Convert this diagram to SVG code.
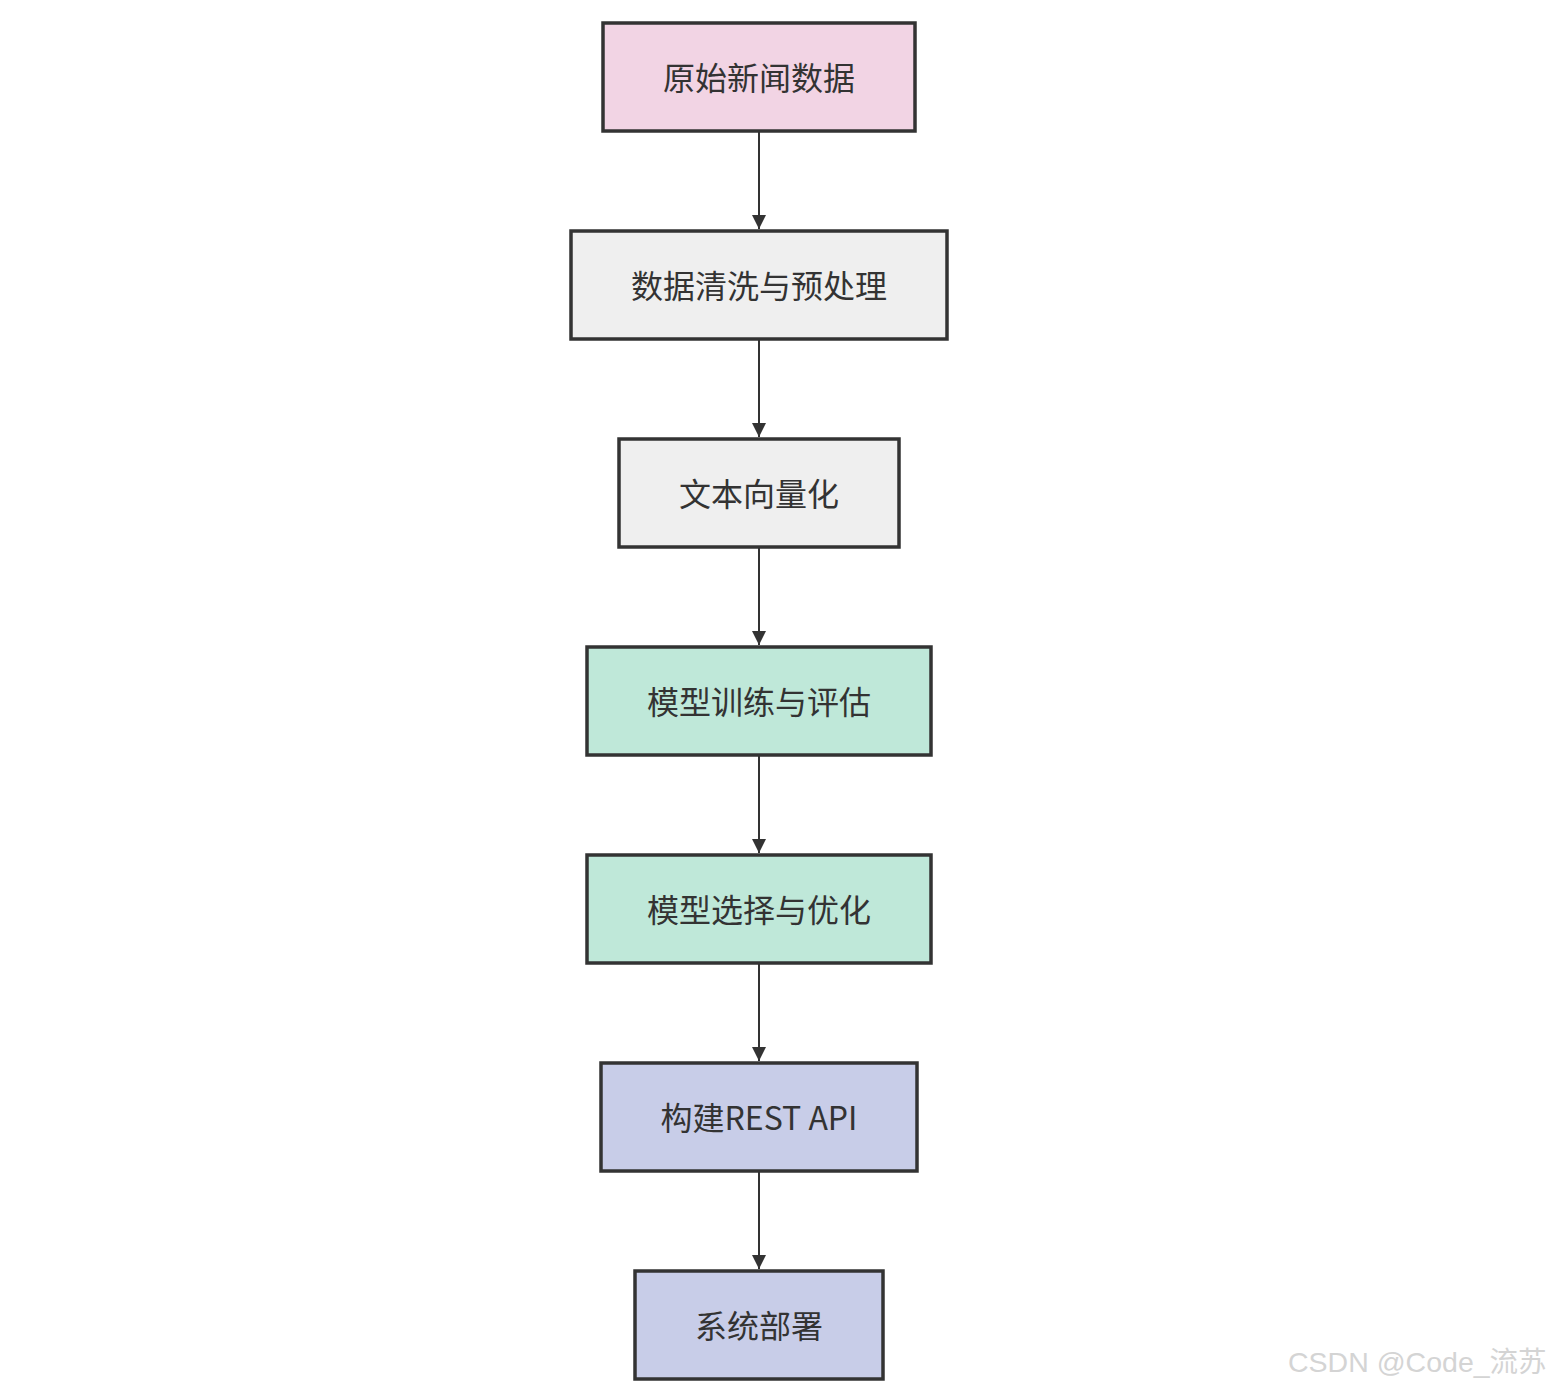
<svg xmlns="http://www.w3.org/2000/svg" width="1550" height="1388" viewBox="0 0 1550 1388">
<defs>
<style>
.n rect{stroke:#333;stroke-width:3.5}
.n text{font-family:"Noto Sans CJK SC","Noto Sans",sans-serif;font-size:32px;fill:#333;text-anchor:middle;dominant-baseline:central}
.c line{stroke:#333;stroke-width:2}
.wm{font-family:"Liberation Sans","Noto Sans CJK SC",sans-serif;font-size:28.5px;fill:#d4d4d4}
</style>
<marker id="ah" markerWidth="14" markerHeight="14" refX="14" refY="7" orient="auto" markerUnits="userSpaceOnUse">
<path d="M0,0 L14,7 L0,14 Z" fill="#333"/>
</marker>
</defs>
<rect width="1550" height="1388" fill="#fff"/>
<g class="c">
<line x1="759" y1="132" x2="759" y2="229" marker-end="url(#ah)"/>
<line x1="759" y1="340" x2="759" y2="437" marker-end="url(#ah)"/>
<line x1="759" y1="548" x2="759" y2="645" marker-end="url(#ah)"/>
<line x1="759" y1="756" x2="759" y2="853" marker-end="url(#ah)"/>
<line x1="759" y1="964" x2="759" y2="1061" marker-end="url(#ah)"/>
<line x1="759" y1="1172" x2="759" y2="1269" marker-end="url(#ah)"/>
</g>
<g id="n1" class="n"><rect x="603" y="23" width="312" height="108" fill="#f2d4e4"/><text x="759" y="76">原始新闻数据</text></g>
<g id="n2" class="n"><rect x="571" y="231" width="376" height="108" fill="#efefef"/><text x="759" y="284">数据清洗与预处理</text></g>
<g id="n3" class="n"><rect x="619" y="439" width="280" height="108" fill="#efefef"/><text x="759" y="492">文本向量化</text></g>
<g id="n4" class="n"><rect x="587" y="647" width="344" height="108" fill="#bfe8d9"/><text x="759" y="700">模型训练与评估</text></g>
<g id="n5" class="n"><rect x="587" y="855" width="344" height="108" fill="#bfe8d9"/><text x="759" y="908">模型选择与优化</text></g>
<g id="n6" class="n"><rect x="601" y="1063" width="316" height="108" fill="#c8cde8"/><text x="759" y="1116">构建REST API</text></g>
<g id="n7" class="n"><rect x="635" y="1271" width="248" height="108" fill="#c8cde8"/><text x="759" y="1324">系统部署</text></g>
<text class="wm" x="1288" y="1372">CSDN @Code_流苏</text>
</svg>
